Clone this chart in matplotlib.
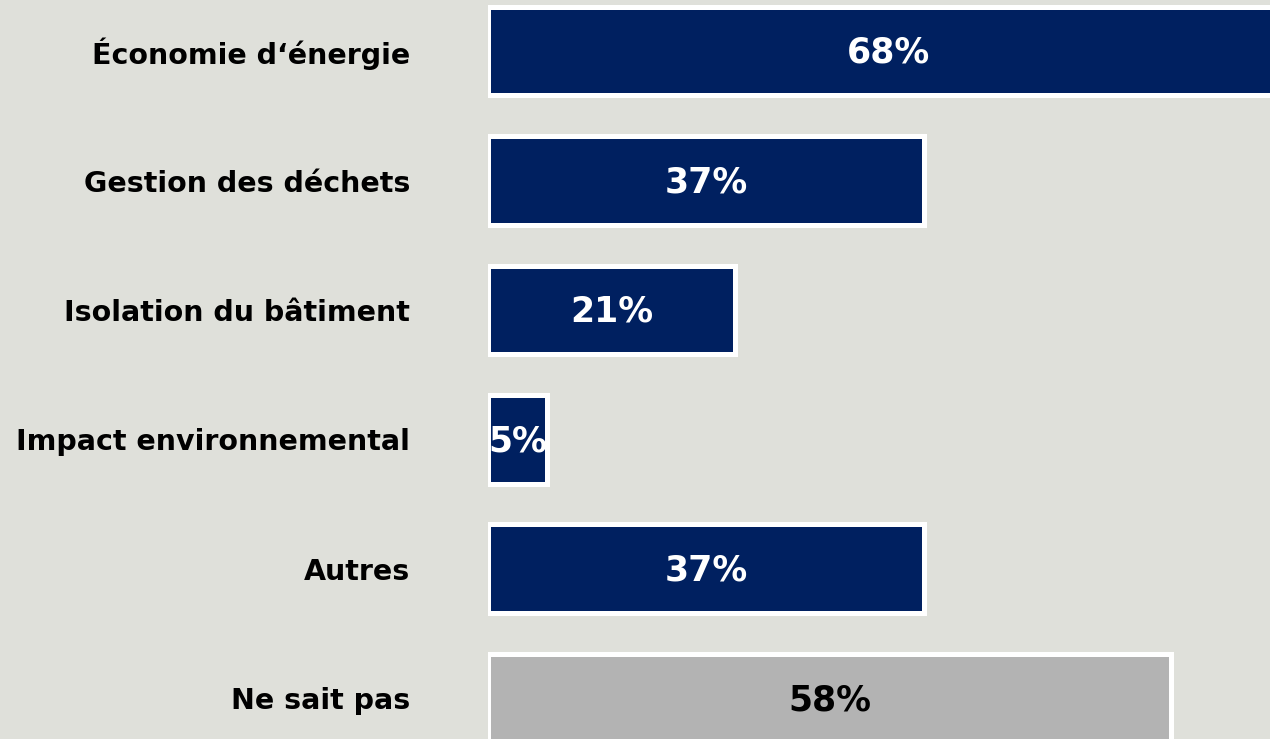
import matplotlib
matplotlib.use("Agg")
import matplotlib.pyplot as plt

categories = ["Économie d‘énergie", "Gestion des déchets", "Isolation du bâtiment",
              "Impact environnemental", "Autres", "Ne sait pas"]
values = [68, 37, 21, 5, 37, 58]
labels = ["68%", "37%", "21%", "5%", "37%", "58%"]

navy = "#002060"
grey = "#B3B3B3"
bg = "#DFE0DA"
colors = [navy] * 5 + [grey]
text_colors = ["white"] * 5 + ["black"]

W, H = 1270, 739
fig = plt.figure(figsize=(W / 100, H / 100), dpi=100, facecolor=bg)
ax = fig.add_axes([488 / W, 0, 1 - 488 / W, 1])
ax.set_facecolor(bg)

ypos = list(range(len(categories)))
ax.barh(ypos, values, height=0.687, color=colors, edgecolor="white", linewidth=3.6)

for y, v, lab, tc in zip(ypos, values, labels, text_colors):
    ax.text(v / 2, y + 0.015, lab, ha="center", va="center", color=tc,
            fontsize=25, fontweight="bold", family="DejaVu Sans", clip_on=False)

ax.set_xlim(0, 66.4)
ax.set_ylim(5.313, -0.394)
ax.set_yticks(ypos)
ax.set_yticklabels(categories, fontsize=20.5, fontweight="bold", family="DejaVu Sans")
ax.tick_params(axis="y", length=0, pad=56)
ax.set_xticks([])
for s in ax.spines.values():
    s.set_visible(False)

fig.savefig("out.png", dpi=100, facecolor=bg)
